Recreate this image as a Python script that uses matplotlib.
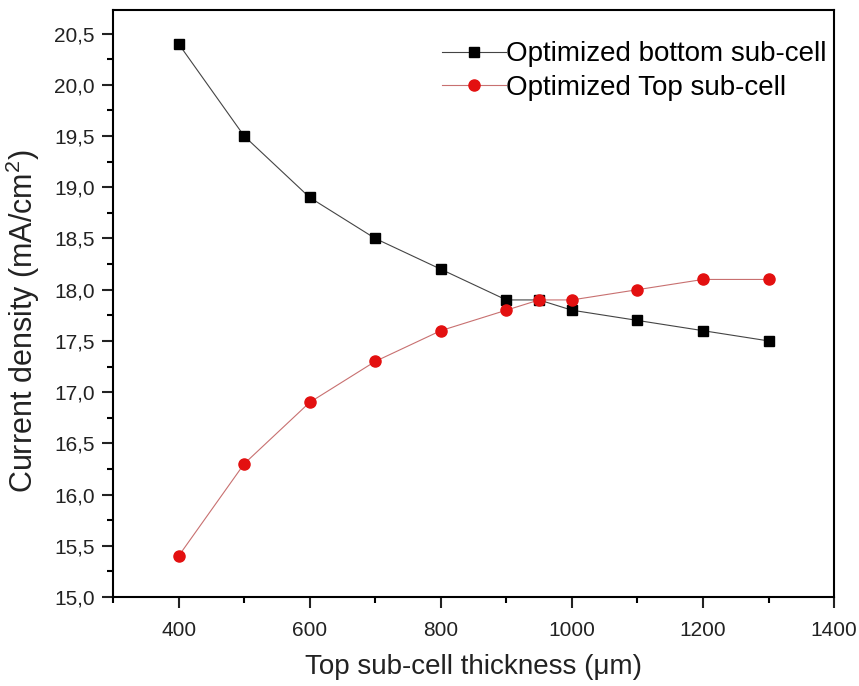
import matplotlib
matplotlib.use("Agg")
import matplotlib.pyplot as plt
from matplotlib.ticker import MultipleLocator, FuncFormatter

plt.rcParams['font.family'] = ['Liberation Sans', 'DejaVu Sans']
plt.rcParams['mathtext.fontset'] = 'custom'
plt.rcParams['mathtext.rm'] = 'Liberation Sans'

thickness = [400, 500, 600, 700, 800, 900, 950, 1000, 1100, 1200, 1300]
bottom = [20.4, 19.5, 18.9, 18.5, 18.2, 17.9, 17.9, 17.8, 17.7, 17.6, 17.5]
top = [15.4, 16.3, 16.9, 17.3, 17.6, 17.8, 17.9, 17.9, 18.0, 18.1, 18.1]

fig = plt.figure(figsize=(8.59, 6.86), dpi=100)
ax = fig.add_axes([0.1316, 0.1297, 0.8394, 0.8557])

ax.plot(thickness, bottom, color='#444444', lw=0.8, marker='s', ms=7,
        mfc='black', mec='black', label='Optimized bottom sub-cell')
ax.plot(thickness, top, color='#c87070', lw=0.8, marker='o', ms=8,
        mfc='#e31010', mec='#e31010', label='Optimized Top sub-cell')

ax.set_xlim(300, 1400)
ax.set_ylim(15.0, 20.73)
ax.xaxis.set_major_locator(MultipleLocator(200))
ax.xaxis.set_minor_locator(MultipleLocator(100))
ax.yaxis.set_major_locator(MultipleLocator(0.5))
ax.yaxis.set_minor_locator(MultipleLocator(0.25))
ax.yaxis.set_major_formatter(FuncFormatter(lambda v, p: f"{v:.1f}".replace('.', ',')))

for s in ax.spines.values():
    s.set_linewidth(1.5)
ax.tick_params(which='major', direction='out', length=8, width=1.5, labelsize=15, colors='#222222')
ax.tick_params(which='minor', direction='out', length=4.5, width=1.5)
ax.tick_params(axis='x', pad=9)
ax.tick_params(axis='y', pad=5)

ax.set_xlabel('Top sub-cell thickness (μm)', fontsize=20, labelpad=10, color='#222222')
ax.set_ylabel('Current density (mA/cm$\\mathregular{^2}$)', fontsize=22, color='#222222')
ax.yaxis.set_label_coords(-0.099, 0.47)

ax.legend(loc='upper right', frameon=False, fontsize=20, handlelength=2.3,
          handletextpad=0.0, borderaxespad=0.15, labelspacing=0.28,
          bbox_to_anchor=(1.0 + 8 / 721, 1.0 - 16 / 587))

fig.savefig('out.png', dpi=100)
